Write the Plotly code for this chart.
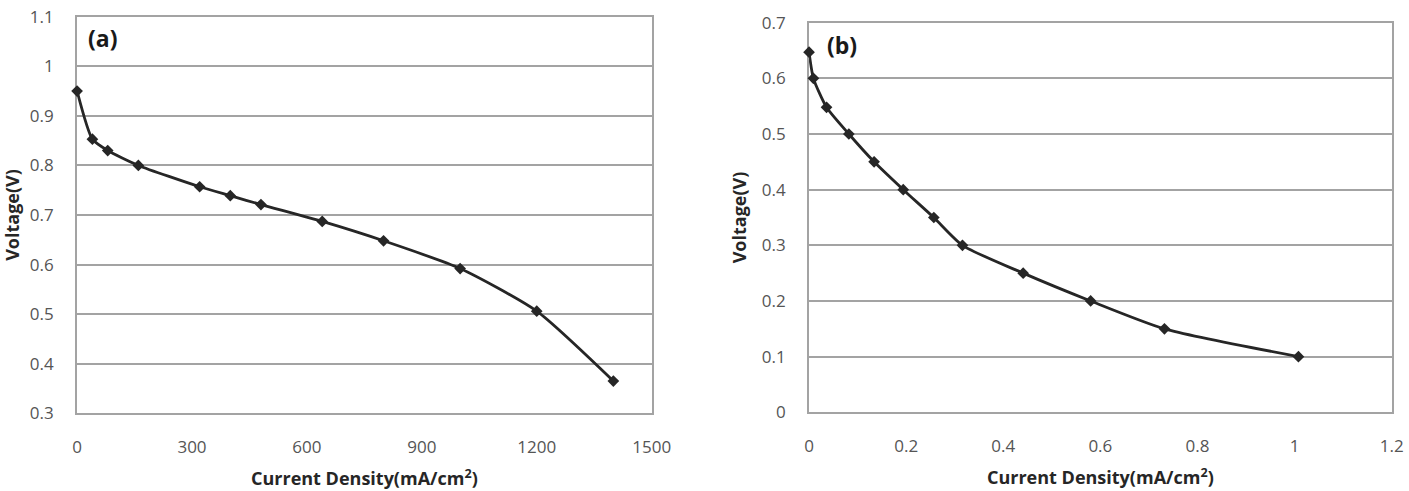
import plotly.graph_objects as go

# Panel (a)
a_current = [0, 40, 80, 160, 320, 400, 480, 640, 800, 1000, 1200, 1400]
a_voltage = [0.95, 0.853, 0.83, 0.80, 0.757, 0.739, 0.721, 0.687, 0.648, 0.592, 0.506, 0.365]
a_xticks = [0, 300, 600, 900, 1200, 1500]
a_yticks = [0.3, 0.4, 0.5, 0.6, 0.7, 0.8, 0.9, 1.0, 1.1]
a_ylabels = ["0.3", "0.4", "0.5", "0.6", "0.7", "0.8", "0.9", "1", "1.1"]

# Panel (b)
b_current = [0, 0.009, 0.036, 0.082, 0.134, 0.194, 0.257, 0.316, 0.441, 0.58, 0.732, 1.008]
b_voltage = [0.647, 0.60, 0.548, 0.50, 0.45, 0.40, 0.35, 0.30, 0.25, 0.20, 0.15, 0.10]
b_xticks = [0, 0.2, 0.4, 0.6, 0.8, 1.0, 1.2]
b_xlabels = ["0", "0.2", "0.4", "0.6", "0.8", "1", "1.2"]
b_yticks = [0, 0.1, 0.2, 0.3, 0.4, 0.5, 0.6, 0.7]
b_ylabels = ["0", "0.1", "0.2", "0.3", "0.4", "0.5", "0.6", "0.7"]

LINE = "#262626"
GRID = "#a3a3a3"
TICKC = "#555555"
FONT = "Open Sans"

fig = go.Figure()
fig.add_trace(go.Scatter(x=a_current, y=a_voltage, mode="lines+markers", cliponaxis=False,
                         line=dict(color=LINE, width=2.8, shape="spline", smoothing=0.6),
                         marker=dict(symbol="diamond", size=9, color=LINE),
                         xaxis="x", yaxis="y", showlegend=False))
fig.add_trace(go.Scatter(x=b_current, y=b_voltage, mode="lines+markers", cliponaxis=False,
                         line=dict(color=LINE, width=2.8, shape="spline", smoothing=0.6),
                         marker=dict(symbol="diamond", size=9, color=LINE),
                         xaxis="x2", yaxis="y2", showlegend=False))

base = dict(showline=True, linecolor=GRID, linewidth=2, mirror=True,
            zeroline=False, ticks="", automargin=False, layer="below traces",
            tickfont=dict(family=FONT, size=17, color=TICKC))
title_font = dict(family=FONT, size=18, color="#262626", weight="bold")

fig.update_layout(
    width=1409, height=491,
    margin=dict(l=0, r=0, t=0, b=0),
    paper_bgcolor="white", plot_bgcolor="white",
    xaxis=dict(domain=[0.0547, 0.4625], range=[0, 1500], tickvals=a_xticks,
               ticklabelstandoff=17, showgrid=False,
               title=dict(text="Current Density(mA/cm<sup>2</sup>)", font=title_font, standoff=16),
               anchor="y", **base),
    yaxis=dict(domain=[0.1582, 0.966], range=[0.3, 1.1], tickvals=a_yticks, ticktext=a_ylabels,
               showgrid=True, gridcolor=GRID, gridwidth=2, ticklabelstandoff=18,
               title=dict(text="Voltage(V)", font=title_font, standoff=10),
               anchor="x", **base),
    xaxis2=dict(domain=[0.5742, 0.9877], range=[0, 1.2], tickvals=b_xticks, ticktext=b_xlabels,
                ticklabelstandoff=17, showgrid=False,
                title=dict(text="Current Density(mA/cm<sup>2</sup>)", font=title_font, standoff=16),
                anchor="y2", **base),
    yaxis2=dict(domain=[0.1603, 0.9538], range=[0, 0.7], tickvals=b_yticks, ticktext=b_ylabels,
                showgrid=True, gridcolor=GRID, gridwidth=2, ticklabelstandoff=18,
                title=dict(text="Voltage(V)", font=title_font, standoff=10),
                anchor="x2", **base),
    annotations=[
        dict(text="<b>(a)</b>", xref="x domain", yref="y domain", x=0.045, y=0.946,
             xanchor="center", yanchor="middle",
             showarrow=False, font=dict(family=FONT, size=23, color="#1a1a1a")),
        dict(text="<b>(b)</b>", xref="x2 domain", yref="y2 domain", x=0.057, y=0.943,
             xanchor="center", yanchor="middle",
             showarrow=False, font=dict(family=FONT, size=23, color="#1a1a1a")),
    ],
)

fig.write_html("out.html")
